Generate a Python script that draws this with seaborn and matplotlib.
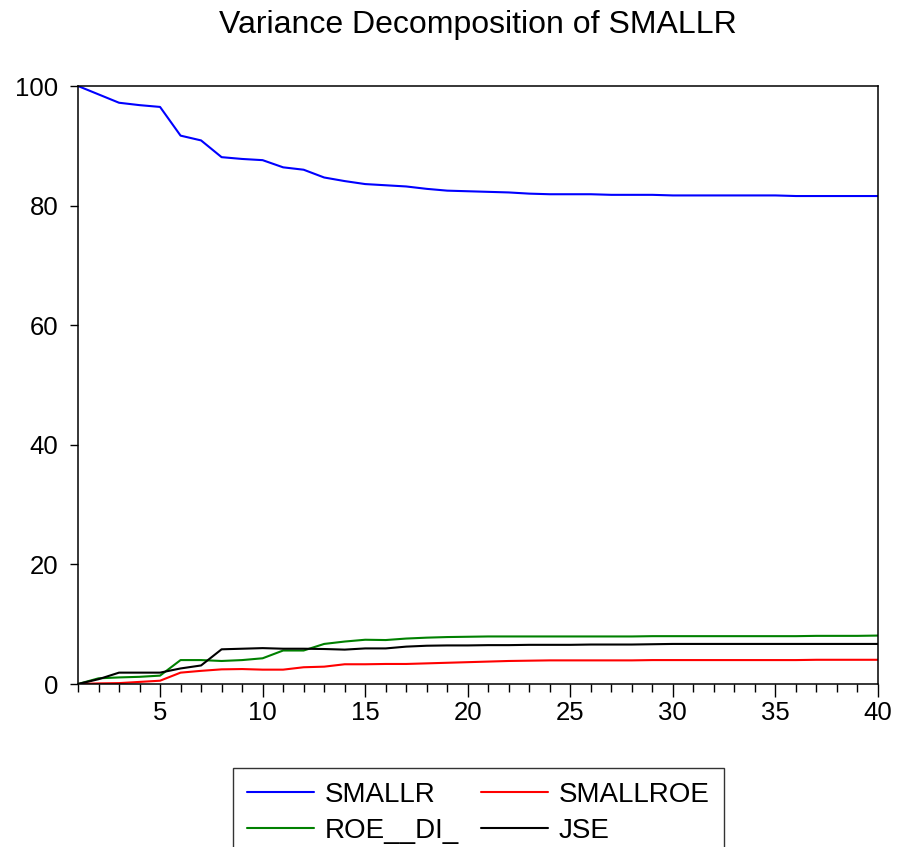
import numpy as np
import pandas as pd
import matplotlib
matplotlib.use("Agg")
import matplotlib.pyplot as plt
from matplotlib.ticker import MultipleLocator
import seaborn as sns

# Forecast horizons (periods 1..40)
periods = list(range(1, 41))

# Share of forecast-error variance of SMALLR explained by each shock (%)
smallr = [100.0, 98.6, 97.2, 96.8, 96.5, 91.7, 90.9, 88.1, 87.8, 87.6,
          86.4, 86.0, 84.7, 84.1, 83.6, 83.4, 83.2, 82.8, 82.5, 82.4,
          82.3, 82.2, 82.0, 81.9, 81.9, 81.9, 81.8, 81.8, 81.8, 81.7,
          81.7, 81.7, 81.7, 81.7, 81.7, 81.6, 81.6, 81.6, 81.6, 81.6]
smallroe = [0.0, 0.1, 0.15, 0.35, 0.55, 1.9, 2.2, 2.45, 2.5, 2.4,
            2.4, 2.8, 2.9, 3.3, 3.3, 3.35, 3.35, 3.45, 3.55, 3.65,
            3.75, 3.85, 3.9, 3.95, 3.95, 3.95, 3.95, 3.95, 4.0, 4.0,
            4.0, 4.0, 4.0, 4.0, 4.0, 4.0, 4.05, 4.05, 4.05, 4.05]
roe_di = [0.0, 0.95, 1.1, 1.2, 1.4, 4.0, 4.0, 3.85, 4.0, 4.3,
          5.6, 5.6, 6.7, 7.1, 7.4, 7.35, 7.6, 7.75, 7.85, 7.9,
          7.95, 7.95, 7.95, 7.95, 7.95, 7.95, 7.95, 7.95, 8.0, 8.0,
          8.0, 8.0, 8.0, 8.0, 8.0, 8.0, 8.05, 8.05, 8.05, 8.1]
jse = [0.0, 0.8, 1.9, 1.9, 1.9, 2.6, 3.1, 5.8, 5.9, 6.0,
       5.9, 5.9, 5.85, 5.75, 5.95, 5.95, 6.25, 6.4, 6.45, 6.45,
       6.5, 6.5, 6.55, 6.55, 6.55, 6.6, 6.6, 6.6, 6.65, 6.7,
       6.7, 6.7, 6.7, 6.7, 6.7, 6.7, 6.7, 6.7, 6.7, 6.7]

series_names = ["SMALLR", "SMALLROE", "ROE__DI_", "JSE"]
series_colors = ["#0000ff", "#ff0000", "#008000", "#000000"]

df = pd.DataFrame({"period": periods, "SMALLR": smallr, "SMALLROE": smallroe,
                   "ROE__DI_": roe_di, "JSE": jse})
long = df.melt(id_vars="period", var_name="series", value_name="share")

sns.set_style("ticks")
plt.rcParams["font.family"] = ["Liberation Sans", "DejaVu Sans"]
plt.rcParams["text.color"] = "black"
plt.rcParams["xtick.color"] = "black"
plt.rcParams["ytick.color"] = "black"
plt.rcParams["axes.labelcolor"] = "black"

fig = plt.figure(figsize=(8.98, 8.47), dpi=100)
ax = fig.add_axes([78 / 898, 1 - 684 / 847, 800 / 898, 598 / 847])

sns.lineplot(data=long, x="period", y="share", hue="series",
             hue_order=series_names, palette=series_colors,
             linewidth=1.5, ax=ax, legend=False)

ax.set_xlim(1, 40)
ax.set_ylim(0, 100)
ax.set_xlabel("")
ax.set_ylabel("")
ax.xaxis.set_major_locator(MultipleLocator(5))
ax.xaxis.set_minor_locator(MultipleLocator(1))
ax.yaxis.set_major_locator(MultipleLocator(20))
ax.tick_params(axis="both", which="major", labelsize=18.5, direction="out",
               width=1.0, color="black", labelcolor="black")
ax.tick_params(axis="x", which="major", length=9.5, pad=3)
ax.tick_params(axis="x", which="minor", length=6, width=1.0, color="black")
ax.tick_params(axis="y", which="major", length=6, pad=8)
for s in ax.spines.values():
    s.set_visible(True)
    s.set_color("black")
    s.set_linewidth(1.1)

ax.set_title("Variance Decomposition of SMALLR", fontsize=23, pad=38,
             color="black")

# Legend laid out in two columns: SMALLR/SMALLROE on top, ROE__DI_/JSE below
handles = [plt.Line2D([], [], color=c, linewidth=1.5) for c in series_colors]
order = [0, 2, 1, 3]
leg = fig.legend([handles[i] for i in order], [series_names[i] for i in order],
                 ncol=2, loc="upper left", bbox_to_anchor=(233 / 898, 1 - 768 / 847),
                 fontsize=20, frameon=True, fancybox=False, edgecolor="black",
                 handlelength=2.4, handletextpad=0.4, columnspacing=0.8,
                 labelspacing=0.35, borderpad=0.5, borderaxespad=0)
leg.get_frame().set_linewidth(1.0)

fig.savefig("out.png", dpi=100)
